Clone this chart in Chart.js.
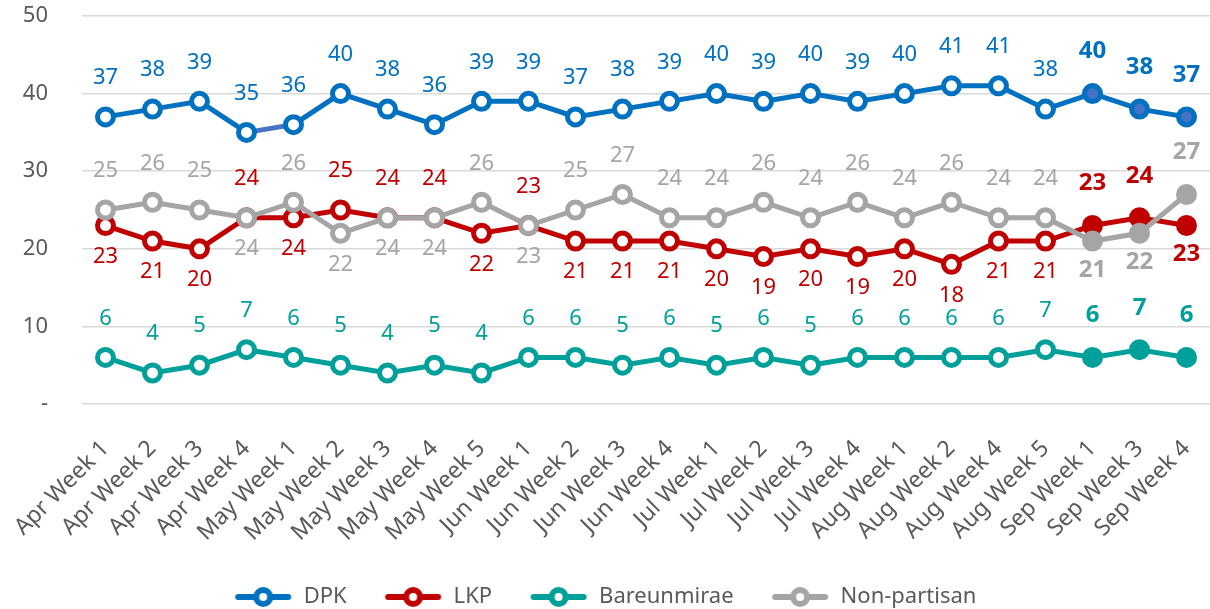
<!DOCTYPE html>
<html>
<head>
<meta charset="utf-8">
<script src="https://cdn.jsdelivr.net/npm/chart.js@4.4.1/dist/chart.umd.min.js"></script>
<style>
  html, body { margin: 0; padding: 0; background: #fff; }
</style>
</head>
<body>
<canvas id="pollChart" width="1210" height="609"></canvas>
<script>
// Weekly party support (%)
const categories = [
    'Apr Week 1', 'Apr Week 2', 'Apr Week 3', 'Apr Week 4',
    'May Week 1', 'May Week 2', 'May Week 3', 'May Week 4', 'May Week 5',
    'Jun Week 1', 'Jun Week 2', 'Jun Week 3', 'Jun Week 4',
    'Jul Week 1', 'Jul Week 2', 'Jul Week 3', 'Jul Week 4',
    'Aug Week 1', 'Aug Week 2', 'Aug Week 4', 'Aug Week 5',
    'Sep Week 1', 'Sep Week 3', 'Sep Week 4'
];
const dpk = [37, 38, 39, 35, 36, 40, 38, 36, 39, 39, 37, 38, 39, 40, 39, 40, 39, 40, 41, 41, 38, 40, 38, 37];
const lkp = [23, 21, 20, 24, 24, 25, 24, 24, 22, 23, 21, 21, 21, 20, 19, 20, 19, 20, 18, 21, 21, 23, 24, 23];
const bareunmirae = [6, 4, 5, 7, 6, 5, 4, 5, 4, 6, 6, 5, 6, 5, 6, 5, 6, 6, 6, 6, 7, 6, 7, 6];
const nonPartisan = [25, 26, 25, 24, 26, 22, 24, 24, 26, 23, 25, 27, 24, 24, 26, 24, 26, 24, 26, 24, 24, 21, 22, 27];

const FONT = "'Noto Sans', 'Open Sans', sans-serif";
const TEXT_GREY = '#595959';
const highlightFrom = categories.length - 3;   // last three weeks are drawn filled + bold

const colors = {
    dpk: '#0070C0',
    lkp: '#C00000',
    bareun: '#00A09A',
    non: '#A5A5A5'
};

function pointFills(n, fill) {
    const arr = [];
    for (let i = 0; i < n; i++) arr.push(i >= highlightFrom ? fill : '#ffffff');
    return arr;
}

// legend icon: short line with hollow circle in the middle
function legendIcon(color) {
    const c = document.createElement('canvas');
    c.width = 59;
    c.height = 22;
    const g = c.getContext('2d');
    g.strokeStyle = color;
    g.lineWidth = 6;
    g.lineCap = 'round';
    g.beginPath();
    g.moveTo(4.5, 11);
    g.lineTo(54.5, 11);
    g.stroke();
    g.fillStyle = '#fff';
    g.lineWidth = 6;
    g.beginPath();
    g.arc(29.5, 11, 7, 0, Math.PI * 2);
    g.fill();
    g.stroke();
    return c;
}

function series(label, data, color, fill, order) {
    return {
        label: label,
        data: data,
        borderColor: color,
        backgroundColor: color,
        borderWidth: 5,
        pointRadius: 8,
        pointHoverRadius: 8,
        pointBorderWidth: 5,
        pointBorderColor: color,
        pointBackgroundColor: pointFills(data.length, fill),
        tension: 0,
        order: order
    };
}

const datasets = [
    series('DPK', dpk, colors.dpk, '#4472C4', 4),
    series('LKP', lkp, colors.lkp, colors.lkp, 3),
    series('Bareunmirae', bareunmirae, colors.bareun, colors.bareun, 2),
    series('Non-partisan', nonPartisan, colors.non, colors.non, 1)
];
// odd colour on one DPK segment, as in the original
datasets[0].segment = {
    borderColor: ctx => ctx.p0DataIndex === 3 ? '#4472C4' : undefined
};

const icons = [colors.dpk, colors.lkp, colors.bareun, colors.non].map(legendIcon);

// which side the value label goes on (LKP and Non-partisan swap around each other)
function labelAbove(dsIndex, j) {
    if (dsIndex === 1) return lkp[j] >= nonPartisan[j];
    if (dsIndex === 3) return nonPartisan[j] > lkp[j];
    return true;
}

const valueLabels = {
    id: 'valueLabels',
    afterDatasetsDraw(chart) {
        const ctx = chart.ctx;
        ctx.save();
        ctx.textAlign = 'center';
        ctx.textBaseline = 'middle';
        chart.data.datasets.forEach((ds, i) => {
            const meta = chart.getDatasetMeta(i);
            meta.data.forEach((pt, j) => {
                const bold = j >= highlightFrom;
                const above = labelAbove(i, j);
                ctx.font = (bold ? 'bold 24px ' : '22px ') + FONT;
                ctx.fillStyle = ds.borderColor;
                const dy = above ? (bold ? -42 : -39) : (bold ? 29 : 31);
                ctx.fillText(String(ds.data[j]), pt.x, pt.y + dy);
            });
        });
        ctx.restore();
    }
};

const chart = new Chart(document.getElementById('pollChart'), {
    type: 'line',
    data: {
        labels: categories,
        datasets: datasets
    },
    options: {
        responsive: false,
        animation: false,
        devicePixelRatio: 1,
        layout: {
            autoPadding: false,
            padding: { top: 16, right: 0, bottom: -9, left: 0 }
        },
        scales: {
            x: {
                offset: true,
                grid: { display: false, drawTicks: false },
                border: { display: false },
                ticks: {
                    color: TEXT_GREY,
                    font: { family: FONT, size: 23 },
                    maxRotation: 45,
                    minRotation: 45,
                    autoSkip: false,
                    padding: 31
                },
                afterFit: scale => {
                    scale.height = 145;
                    scale.paddingLeft = 0;
                    scale.paddingRight = 0;
                }
            },
            y: {
                min: 0,
                max: 50,
                grid: { color: '#D9D9D9', lineWidth: 1.5, drawTicks: false },
                border: { display: false },
                ticks: {
                    stepSize: 10,
                    color: TEXT_GREY,
                    padding: 34,
                    font: { family: FONT, size: 22 },
                    callback: v => v === 0 ? '-' : v
                },
                afterFit: scale => {
                    scale.width = 82;
                    scale.paddingTop = 0;
                    scale.paddingBottom = 0;
                }
            }
        },
        plugins: {
            tooltip: { enabled: false },
            legend: {
                position: 'bottom',
                labels: {
                    usePointStyle: true,
                    pointStyleWidth: 59,
                    padding: 37,
                    color: TEXT_GREY,
                    font: { family: FONT, size: 22 },
                    sort: (a, b) => a.datasetIndex - b.datasetIndex,
                    generateLabels: function(chart) {
                        const items = Chart.defaults.plugins.legend.labels.generateLabels(chart);
                        items.forEach(item => { item.pointStyle = icons[item.datasetIndex]; });
                        return items;
                    }
                }
            }
        }
    },
    plugins: [valueLabels]
});
</script>
</body>
</html>
